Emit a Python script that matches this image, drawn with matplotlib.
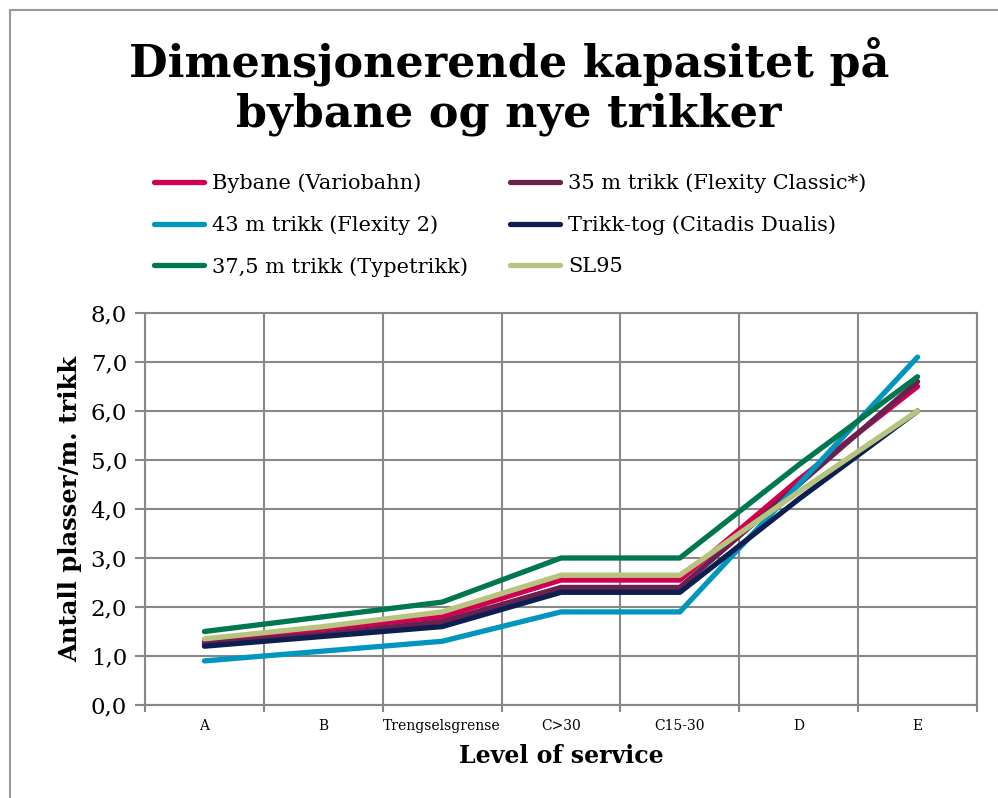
import matplotlib
matplotlib.use("Agg")
import matplotlib.pyplot as plt
from matplotlib.patches import Rectangle

categories = ["A", "B", "Trengselsgrense", "C>30", "C15-30", "D", "E"]
series_names = ["Bybane (Variobahn)", "35 m trikk (Flexity Classic*)",
                "43 m trikk (Flexity 2)", "Trikk-tog (Citadis Dualis)",
                "37,5 m trikk (Typetrikk)", "SL95"]
bybane = [1.3, 1.55, 1.8, 2.55, 2.55, 4.6, 6.5]
flexity_classic = [1.25, 1.45, 1.7, 2.4, 2.4, 4.5, 6.6]
flexity2 = [0.9, 1.1, 1.3, 1.9, 1.9, 4.5, 7.1]
trikk_tog = [1.2, 1.4, 1.6, 2.3, 2.3, 4.2, 6.0]
typetrikk = [1.5, 1.8, 2.1, 3.0, 3.0, 4.9, 6.7]
sl95 = [1.35, 1.6, 1.9, 2.65, 2.65, 4.35, 6.0]
colors = ["#D10050", "#6B2150", "#0096BE", "#0C1F50", "#00774F", "#B6C47F"]

serif = ["DejaVu Serif"]
fig = plt.figure(figsize=(9.98, 7.98), dpi=100)
fig.patches.append(Rectangle((10/998, -0.1), 1.2, (798-10)/798 + 0.1,
                             transform=fig.transFigure, fill=False,
                             edgecolor="#999999", linewidth=1.5))
ax = fig.add_axes([145/998, 1-705/798, (977-145)/998, (705-313)/798])

data = [bybane, flexity_classic, flexity2, trikk_tog, typetrikk, sl95]
x = list(range(len(categories)))
lines = []
for name, vals, c in zip(series_names, data, colors):
    ln, = ax.plot(x, vals, color=c, lw=3.8, label=name, solid_capstyle="round",
                  solid_joinstyle="round")
    lines.append(ln)

ax.set_xlim(-0.5, len(categories) - 0.5)
ax.set_ylim(0, 8)
ax.set_yticks(range(0, 9))
ax.set_yticklabels([f"{v},0" for v in range(0, 9)], fontfamily=serif, fontsize=16.5)
ax.set_xticks(x)
ax.set_xticklabels(categories, fontfamily=serif, fontsize=10)
ax.set_xticks([i + 0.5 for i in range(-1, len(categories))], minor=True)
ax.tick_params(axis="x", which="major", length=0, pad=10)
ax.tick_params(axis="x", which="minor", length=5, color="#888888", width=1.5)
ax.tick_params(axis="y", length=7, color="#888888", width=1.5, pad=6)
ax.grid(True, axis="y", color="#888888", lw=1.5)
ax.grid(True, axis="x", which="minor", color="#888888", lw=1.5)
ax.set_axisbelow(True)
for s in ax.spines.values():
    s.set_color("#888888")
    s.set_linewidth(1.5)

ax.set_ylabel("Antall plasser/m. trikk", fontfamily=serif, fontsize=17.5,
              fontweight="bold", labelpad=6)
ax.set_xlabel("Level of service", fontfamily=serif, fontsize=17,
              fontweight="bold", labelpad=8)

fig.text(0.51, 1-86/798, "Dimensjonerende kapasitet på\nbybane og nye trikker",
         ha="center", va="center", fontfamily=serif, fontweight="bold",
         fontsize=32, linespacing=1.2)

order = [0, 2, 4, 1, 3, 5]
fig.legend([lines[i] for i in order], [series_names[i] for i in order],
           ncol=2, loc="upper left",
           bbox_to_anchor=(135/998, 1-155/798), frameon=False,
           prop={"family": serif, "size": 15}, handlelength=2.4,
           handletextpad=0.4, columnspacing=2.0, labelspacing=1.05)

fig.savefig("out.png", dpi=100)
